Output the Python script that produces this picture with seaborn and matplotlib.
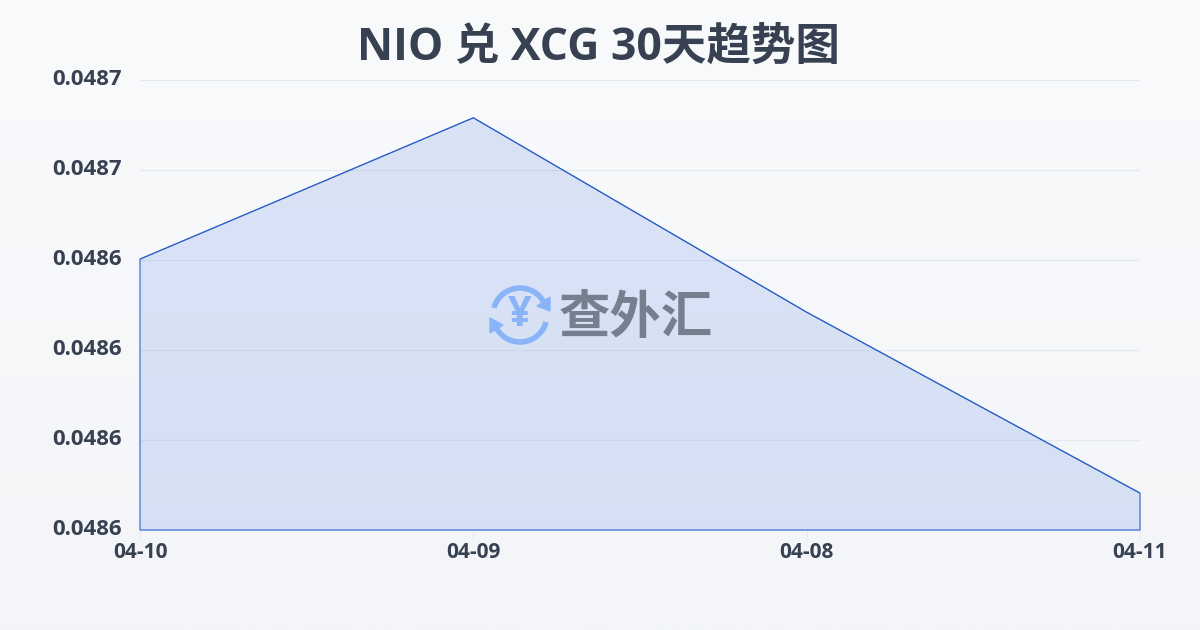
import numpy as np
import pandas as pd
import matplotlib
matplotlib.use("Agg")
import matplotlib.pyplot as plt
from matplotlib.patches import Arc, Polygon
from matplotlib.transforms import ScaledTranslation
import seaborn as sns

# valores
dates = ["04-10", "04-09", "04-08", "04-11"]
rates = [0.0486402, 0.0486716, 0.0486284, 0.0485882]
y_ticks = [0.04858, 0.04860, 0.04862, 0.04864, 0.04866, 0.04868]
title = "NIO 兑 XCG 30天趋势图"
watermark = "查外汇"

df = pd.DataFrame({"date": dates, "rate": rates})
df["pos"] = range(len(df))

sns.set_theme(style="white")
plt.rcParams['font.family'] = ['Open Sans', 'Noto Sans CJK SC', 'DejaVu Sans']

fig = plt.figure(figsize=(12, 6.3), dpi=100)

# fundo com gradiente
bg = fig.add_axes([0, 0, 1, 1], zorder=0)
bg.imshow(np.linspace(0, 1, 256).reshape(-1, 1), aspect="auto", extent=[0, 1, 0, 1],
          cmap=matplotlib.colors.LinearSegmentedColormap.from_list("bg", ["#f9fafc", "#f3f5f8"]))
bg.axis("off")

ax = fig.add_axes([140 / 1200, 100 / 630, 1000 / 1200, 450 / 630], zorder=1)
ax.patch.set_alpha(0)

ax.fill_between(df["pos"], df["rate"], y_ticks[0], facecolor="#2a60d8", alpha=0.145, lw=0, zorder=2)
ax.fill_between(df["pos"], df["rate"], y_ticks[0], facecolor="none", edgecolor="#2f62c8",
                lw=0.8, zorder=3, clip_on=False)
sns.lineplot(data=df, x="pos", y="rate", ax=ax, color="#2f62c8", lw=0.8, zorder=3)

ax.set_xlim(0, len(dates) - 1)
ax.set_ylim(y_ticks[0], y_ticks[-1])
ax.set_xticks(df["pos"])
ax.set_xticklabels(dates, fontsize=15, fontweight="bold", color="#374151")
ax.set_yticks(y_ticks)
ax.set_yticklabels([f"{v:.4f}" for v in y_ticks], fontsize=16, fontweight="bold", color="#374151")
ax.tick_params(axis="x", length=7, width=0.8, color="#e8eaee", pad=1.5, bottom=True)
ax.tick_params(axis="y", length=0, pad=13)
# rotulos do eixo y um pouco acima da grade
for lab in ax.get_yticklabels():
    lab.set_transform(lab.get_transform() + ScaledTranslation(0, 2 / 72, fig.dpi_scale_trans))
ax.grid(axis="y", color="#e5e9ef", lw=0.8)
ax.set_axisbelow(True)
ax.set_xlabel("")
ax.set_ylabel("")
sns.despine(ax=ax, left=True, bottom=True)

fig.text(598 / 1200, 1 - 48 / 630, title, ha="center", va="center", fontsize=32,
         fontweight="bold", color="#374151")

# marca d'agua em pixels
wm = fig.add_axes([0, 0, 1, 1], zorder=2)
wm.set_xlim(0, 1200)
wm.set_ylim(630, 0)
wm.axis("off")
blue = "#8ab4f8"
wm.add_patch(Arc((520, 315), 54, 54, theta1=195, theta2=335, color=blue, lw=4))
wm.add_patch(Arc((520, 315), 54, 54, theta1=15, theta2=155, color=blue, lw=4))
wm.add_patch(Polygon([[550, 297], [550, 311], [537, 306]], color=blue))
wm.add_patch(Polygon([[490, 318], [490, 333], [503, 325]], color=blue))
wm.text(520, 315, "¥", ha="center", va="center", fontsize=30, fontweight="bold", color=blue)
wm.text(636, 320, watermark, ha="center", va="center", fontsize=37, fontweight="bold", color="#75808f")

plt.savefig("out.png", dpi=100)
